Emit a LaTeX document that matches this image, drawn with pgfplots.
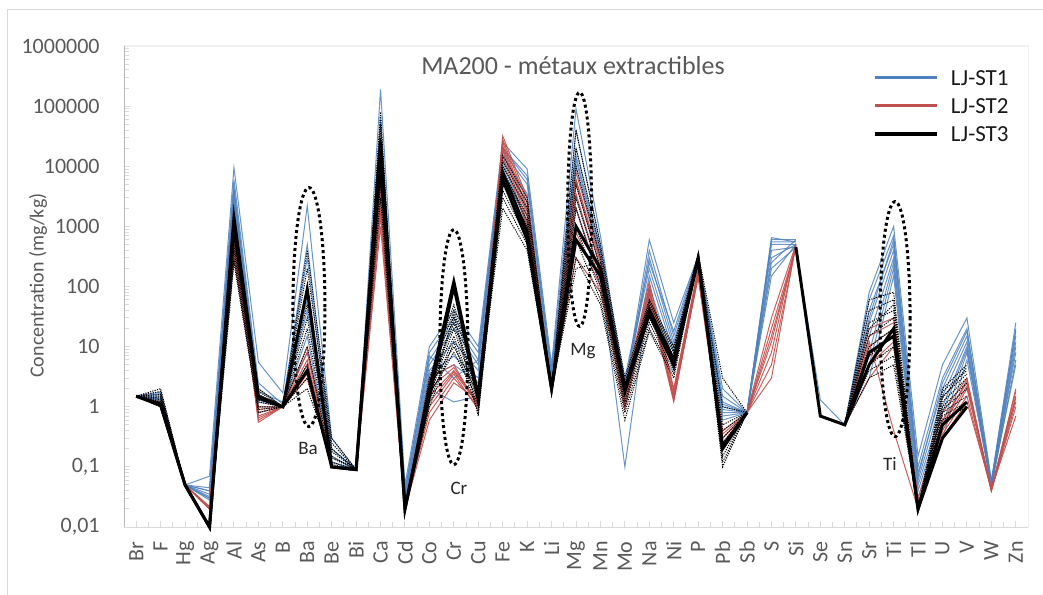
\documentclass[border=0pt]{standalone}
\usepackage{fontspec}
\setmainfont{Carlito}
\usepackage{pgfplots}
\usepackage{pgfplotstable}
\pgfplotsset{compat=1.18}

\definecolor{stblue}{RGB}{79,129,189}
\definecolor{stred}{RGB}{192,80,77}
\definecolor{txtgray}{RGB}{89,89,89}
\definecolor{linegray}{RGB}{217,217,217}

% LJ-ST1 (blue)
\pgfplotstableread{
x  b1     b2    b3    b4    b5    b6    b7    b8    b9
0  1.5    1.5   1.5   1.5   1.5   1.5   1.5   1.5   1.5
1  1.75   1.6   1.5   1.4   1.3   1.25  1.2   1.65  1.35
2  0.05   0.05  0.05  0.05  0.05  0.05  0.05  0.05  0.05
3  0.07   0.045 0.04  0.035 0.03  0.03  0.028 0.04  0.032
4  9500   6000  4500  3500  3000  2500  2000  4000  1800
5  5.5    2.5   2     1.5   1.2   1.0   0.8   1.8   1.3
6  1.7    1.1   1     1     1     1     1     1.2   1
7  2200   500   300   100   60    40    15    8     5
8  0.3    0.2   0.15  0.12  0.1   0.1   0.1   0.2   0.12
9  0.09   0.09  0.09  0.09  0.09  0.09  0.09  0.09  0.09
10 190000 60000 30000 15000 8000  5000  3000  20000 2000
11 0.05   0.04  0.035 0.03  0.03  0.025 0.025 0.04  0.03
12 10     8     6     5     4     3.5   3     7     2
13 40     30    25    20    12    7     5     3     1.2
14 10     8     6     5     4     3     2.5   6     1.5
15 25000  20000 18000 15000 13000 10000 8000  20000 12000
16 9000   7000  5000  3500  2500  1800  1200  6000  1000
17 5      4     3     2.5   2.2   2.1   2     3.5   2
18 90000  40000 20000 13000 10000 6000  3000  15000 2000
19 700    500   400   300   250   200   150   350   100
20 2      1.8   1.5   2.5   1.2   1     0.1   3     1.5
21 600    400   300   200   150   100   80    250   60
22 25     15    12    10    8     6     5     18    4
23 320    300   280   320   300   250   280   330   290
24 2      1.5   1.2   1     0.9   0.8   0.7   1.1   0.6
25 0.8    0.8   0.8   0.8   0.8   0.8   0.8   0.8   0.8
26 650    600   500   400   300   250   200   550   150
27 550    600   500   450   500   600   450   550   500
28 nan    nan   nan   nan   nan   nan   1.3   nan   nan
29 0.5    0.5   0.5   0.5   0.5   0.5   0.5   0.5   0.5
30 80     60    40    25    15    8     5     30    3
31 1000   700   500   400   300   250   200   600   150
32 0.15   0.1   0.08  0.06  0.05  0.04  0.03  0.07  0.025
33 5      3     2     1.5   1     0.8   0.5   2.5   0.3
34 30     20    15    12    10    9     8     18    6
35 0.06   0.055 0.05  0.05  0.045 0.05  0.045 0.055 0.05
36 25     20    15    12    10    8     6     18    5
}\tblue

% LJ-ST2 (red)
\pgfplotstableread{
x  r1    r2    r3    r4    r5    r6    r7
0  1.5   1.5   1.5   1.5   1.5   1.5   1.5
1  1.0   1.05  1.1   1.0   1.15  1.2   1.0
2  0.05  0.05  0.05  0.05  0.05  0.05  0.05
3  0.02  0.02  0.022 0.02  0.02  0.021 0.02
4  1000  700   500   400   350   300   600
5  0.55  0.6   0.7   0.8   0.9   1.0   0.65
6  1     1     1     1     1     1     1
7  10    8     6     5     4     3.5   3
8  0.1   0.1   0.1   0.1   0.1   0.1   0.1
9  0.09  0.09  0.09  0.09  0.09  0.09  0.09
10 8000  5000  3000  2000  1500  1000  4000
11 0.02  0.02  0.02  0.02  0.02  0.02  0.02
12 3     2     1.5   1     0.8   0.6   1.2
13 5     4.5   4     3.5   3     2.5   3.8
14 1.0   1.1   1.2   0.9   1.0   1.3   1.1
15 32000 28000 25000 20000 18000 15000 22000
16 3000  2500  2000  1500  1200  1000  1800
17 2     2     2     2     2     2     2
18 8000  6000  5000  3500  2000  800   300
19 300   250   200   150   120   100   80
20 2     1.8   1.5   1.2   1     0.9   1.6
21 120   100   90    80    60    50    70
22 2     1.8   1.5   1.3   1.2   1.6   1.4
23 200   180   160   150   170   190   140
24 0.4   0.35  0.3   0.25  0.2   0.3   0.22
25 0.8   0.8   0.8   0.8   0.8   0.8   0.8
26 30    20    12    8     5     3     15
27 500   450   480   520   460   500   440
28 nan   nan   nan   nan   nan   nan   nan
29 0.5   0.5   0.5   0.5   0.5   0.5   0.5
30 20    15    10    8     5     3     12
31 30    25    20    15    12    10    0.4
32 0.03  0.025 0.02  0.02  0.02  0.02  0.02
33 0.8   0.6   0.5   0.4   0.35  0.3   0.5
34 3     2.5   2.2   2     1.5   1.2   2.8
35 0.04  0.042 0.045 0.04  0.04  0.043 0.04
36 2     1.8   1.5   1.2   1     0.7   1.4
}\tred

% LJ-ST3 (black, dotted samples)
\pgfplotstableread{
x  k1    k2    k3    k4    k5    k6    k7    k8    k9    k10
0  1.5   1.5   1.5   1.5   1.5   1.5   1.5   1.5   1.5   1.5
1  2.0   1.8   1.6   1.5   1.4   1.3   1.2   1.1   1.0   1.2
2  0.05  0.05  0.05  0.05  0.05  0.05  0.05  0.05  0.05  0.05
3  0.01  0.01  0.01  0.01  0.01  0.01  0.01  0.01  0.01  0.01
4  1500  1200  1000  800   600   500   400   300   250   700
5  2     1.8   1.6   1.5   1.4   1.2   1     0.9   0.8   1.3
6  1     1     1     1     1     1     1     1     1     1
7  400   200   100   50    30    20    10    5     3     2
8  0.3   0.25  0.2   0.18  0.15  0.12  0.11  0.1   0.1   0.14
9  0.09  0.09  0.09  0.09  0.09  0.09  0.09  0.09  0.09  0.09
10 80000 50000 30000 20000 15000 10000 7000  5000  3000  40000
11 0.02  0.02  0.02  0.02  0.02  0.02  0.02  0.02  0.02  0.02
12 3     2.5   2     1.8   1.5   1.2   1     2.2   1.6   1.3
13 50    40    30    25    20    15    12    10    8     35
14 2     1.8   1.5   1.4   1.2   1     0.8   1.6   1.3   0.7
15 15000 12000 10000 8000  6000  5000  4000  3000  2000  9000
16 3000  2500  2000  1500  1000  800   600   500   400   1200
17 2     2     2     2     2     2     2     2     2     2
18 40000 20000 10000 5000  3000  2000  1000  600   300   200
19 500   400   300   200   150   100   80    60    50    250
20 3     2.5   2     1.8   1.5   1.2   1     0.8   0.6   2.2
21 60    50    45    40    35    30    25    20    18    55
22 10    8     7     6     5     4.5   4     3.5   3     9
23 350   320   300   280   260   240   300   330   310   290
24 3     1     0.5   0.4   0.3   0.2   0.15  0.12  0.1   0.25
25 0.8   0.8   0.8   0.8   0.8   0.8   0.8   0.8   0.8   0.8
26 nan   nan   nan   nan   nan   nan   nan   nan   nan   nan
27 nan   nan   nan   nan   nan   nan   nan   nan   nan   nan
28 nan   nan   nan   nan   nan   nan   nan   nan   nan   nan
29 0.5   0.5   0.5   0.5   0.5   0.5   0.5   0.5   0.5   0.5
30 60    40    25    15    10    7     5     4     3     20
31 80    60    40    30    20    15    10    7     5     50
32 0.02  0.02  0.02  0.02  0.02  0.02  0.02  0.02  0.02  0.02
33 2     1.8   1.5   1.2   1     0.9   0.8   0.7   0.6   1.4
34 5     4     3.5   3     2.5   2     1.5   1.2   1     4.5
35 nan   nan   nan   nan   nan   nan   nan   nan   nan   nan
36 nan   nan   nan   nan   nan   nan   nan   nan   nan   nan
}\tblack

% LJ-ST3 (black, thick)
\pgfplotstableread{
x  t1    t2
0  1.5   1.5
1  1.05  1.1
2  0.05  0.05
3  0.01  0.01
4  1400  1000
5  1.5   1.4
6  1     1
7  90    4
8  0.1   0.1
9  0.09  0.09
10 25000 12000
11 0.02  0.02
12 2     1.5
13 120   100
14 1.5   1.3
15 8000  6000
16 800   600
17 2     2
18 1000  600
19 200   150
20 2     1.8
21 40    35
22 6     5
23 300   280
24 0.2   0.22
25 0.8   0.8
26 nan   nan
27 450   nan
28 0.7   nan
29 0.5   0.5
30 5     8
31 20    15
32 0.02  0.02
33 0.3   0.5
34 1.0   1.2
35 nan   nan
36 nan   nan
}\tthick

\tikzset{
  lblue/.style={draw=stblue, line width=0.5pt, mark=none, opacity=0.85},
  lred/.style={draw=stred, line width=0.5pt, mark=none, opacity=0.9},
  ldot/.style={draw=black, line width=0.5pt, mark=none, dash pattern=on 0.6pt off 0.6pt},
  lthick/.style={draw=black, line width=1.5pt, mark=none},
  oval/.style={draw=black, line width=1.5pt, dash pattern=on 1.5pt off 1.5pt},
  ovallabel/.style={font=\fontsize{9.5}{11}\selectfont, text=black!85},
}

\begin{document}
\begin{tikzpicture}
\useasboundingbox (0,0) rectangle (521.5pt,297pt);
\draw[draw=linegray, line width=0.5pt] (3.5pt,-5pt) -- (3.5pt,292pt) -- (530pt,292pt);
\begin{axis}[
  at={(62pt,33.5pt)}, anchor=south west,
  scale only axis, width=452pt, height=240.5pt,
  xmin=-0.5, xmax=36.5,
  ymode=log, ymin=0.01, ymax=1000000,
  unbounded coords=jump,
  clip=false,
  xtick={0,...,36},
  xticklabels={Br,F,Hg,Ag,Al,As,B,Ba,Be,Bi,Ca,Cd,Co,Cr,Cu,Fe,K,Li,Mg,Mn,Mo,Na,Ni,P,Pb,Sb,S,Si,Se,Sn,Sr,Ti,Tl,U,V,W,Zn},
  minor x tick num=1,
  ytickten={-2,...,6},
  yticklabels={{0,01},{0,1},1,10,100,1000,10000,100000,1000000},
  tick align=inside, tick pos=left,
  major tick length=3pt, minor tick length=2.5pt,
  tick style={draw=linegray, line width=0.5pt},
  axis line style={draw=black!6, line width=0.5pt},
  ticklabel style={font=\fontsize{11}{13}\selectfont, text=txtgray, inner sep=0pt},
  xticklabel style={rotate=90, anchor=east},
  xticklabel shift=7pt, yticklabel shift=12pt,
  title={MA200 - métaux extractibles},
  title style={at={(0.4967,0.935)}, anchor=center, font=\fontsize{13}{15}\selectfont, text=txtgray},
  ylabel={Concentration (mg/kg)},
  ylabel style={at={(-0.0951,0.502)}, anchor=center, font=\fontsize{10}{12}\selectfont, text=txtgray},
  legend cell align=left,
  legend style={at={(0.8285,0.949)}, anchor=north west, draw=none, fill=none,
    inner sep=0pt, outer sep=0pt, row sep=6.6pt, column sep=6pt,
    font=\fontsize{11.5}{13}\selectfont, text=black!90,
    nodes={inner sep=0pt, text height=7.4pt, text depth=0pt}},
  legend image code/.code={\draw[#1] (0pt,0pt) -- (31pt,0pt);},
]
\addlegendimage{draw=stblue, line width=1.5pt}
\addlegendentry{LJ-ST1}
\addlegendimage{draw=stred, line width=1.5pt}
\addlegendentry{LJ-ST2}
\addlegendimage{draw=black, line width=2pt}
\addlegendentry{LJ-ST3}

\draw[draw=black!28, line width=0.5pt] (rel axis cs:0,0) -- (rel axis cs:0,1);
\draw[draw=linegray, line width=0.5pt] (rel axis cs:0,0) -- (rel axis cs:1,0);

\pgfplotsinvokeforeach{1,...,9}{\addplot[forget plot, lblue] table[x=x, y=b#1]{\tblue};}
\pgfplotsinvokeforeach{1,...,7}{\addplot[forget plot, lred] table[x=x, y=r#1]{\tred};}
\pgfplotsinvokeforeach{1,...,10}{\addplot[forget plot, ldot] table[x=x, y=k#1]{\tblack};}
\pgfplotsinvokeforeach{1,2}{\addplot[forget plot, lthick] table[x=x, y=t#1]{\tthick};}

\draw[oval] (axis cs:7.07,45.5) ellipse [x radius=8pt, y radius=59.75pt];
\draw[oval] (axis cs:13,9.8) ellipse [x radius=7pt, y radius=58.75pt];
\draw[oval] (axis cs:18.15,1920) ellipse [x radius=6pt, y radius=58.5pt];
\draw[oval] (axis cs:31.06,28.7) ellipse [x radius=7.5pt, y radius=58.75pt];

\node[ovallabel] at (axis cs:7.03,0.2) {Ba};
\node[ovallabel] at (axis cs:13.21,0.0447) {Cr};
\node[ovallabel] at (axis cs:18.29,8.58) {Mg};
\node[ovallabel] at (axis cs:30.85,0.112) {Ti};
\end{axis}
\end{tikzpicture}
\end{document}
